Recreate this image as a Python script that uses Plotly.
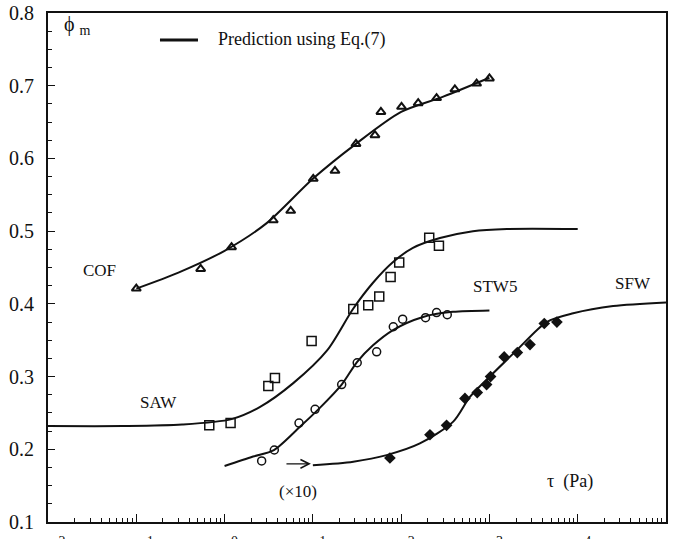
import plotly.graph_objects as go

# ---- measured data: shear stress tau (Pa) vs maximum packing fraction phi_m ----
cof_tau = [0.1, 0.536, 1.20, 3.56, 5.61, 10.1, 17.8, 30.8, 50.5, 59.0, 101, 156, 252, 406, 716, 1000]
cof_phi = [0.421, 0.448, 0.478, 0.515, 0.528, 0.572, 0.583, 0.620, 0.632, 0.664, 0.671, 0.676, 0.683, 0.695, 0.703, 0.710]

saw_tau = [0.671, 1.17, 3.13, 3.72, 9.68, 28.7, 42.4, 56.5, 76.0, 95.1, 208, 268]
saw_phi = [0.233, 0.236, 0.287, 0.298, 0.349, 0.393, 0.398, 0.410, 0.437, 0.457, 0.491, 0.480]

stw5_tau = [2.63, 3.66, 6.97, 10.6, 21.2, 31.8, 52.8, 81.5, 104, 189, 252, 333]
stw5_phi = [0.184, 0.199, 0.236, 0.255, 0.289, 0.319, 0.334, 0.3685, 0.379, 0.381, 0.388, 0.385]

sfw_tau = [74.6, 212, 327, 528, 728, 929, 1030, 1470, 2070, 2880, 4180, 5810]
sfw_phi = [0.188, 0.220, 0.233, 0.270, 0.278, 0.289, 0.300, 0.327, 0.333, 0.344, 0.373, 0.375]

# ---- predicted curves (Eq. 7) ----
cof_fit_tau = [0.1, 0.3, 1, 3, 10, 30, 100, 300, 1000]
cof_fit_phi = [0.421, 0.443, 0.473, 0.511, 0.572, 0.619, 0.664, 0.685, 0.711]

saw_fit_tau = [0.01, 0.07, 0.33, 1.2, 2.5, 6, 14.5, 28.5, 48, 81, 136, 275, 650, 1580, 10000]
saw_fit_phi = [0.232, 0.232, 0.234, 0.2415, 0.258, 0.291, 0.336, 0.393, 0.429, 0.4575, 0.477, 0.4905, 0.500, 0.503, 0.503]

stw5_fit_tau = [1, 2.1, 3.62, 7.14, 12.0, 21.2, 31.6, 48, 81, 177, 386, 1000]
stw5_fit_phi = [0.177, 0.190, 0.199, 0.231, 0.257, 0.289, 0.320, 0.343, 0.364, 0.382, 0.389, 0.391]

sfw_fit_tau = [10, 28.7, 68.5, 163, 389, 601, 1010, 2030, 4450, 8890, 25200, 100000]
sfw_fit_phi = [0.178, 0.183, 0.192, 0.208, 0.238, 0.272, 0.300, 0.336, 0.375, 0.387, 0.397, 0.402]

# ---- x tick labels (decades) ----
x_tick_vals = [0.01, 0.1, 1, 10, 100, 1000, 10000, 100000]
x_tick_text = ["10<sup>−2</sup>", "10<sup>−1</sup>", "10<sup>0</sup>", "10<sup>1</sup>",
               "10<sup>2</sup>", "10<sup>3</sup>", "10<sup>4</sup>", "10<sup>5</sup>"]

FONT = "Liberation Serif"
BLACK = "#111111"

fig = go.Figure()

for tx, ty in [(cof_fit_tau, cof_fit_phi), (saw_fit_tau, saw_fit_phi),
               (stw5_fit_tau, stw5_fit_phi), (sfw_fit_tau, sfw_fit_phi)]:
    fig.add_trace(go.Scatter(x=tx, y=ty, mode="lines",
                             line=dict(color=BLACK, width=2, shape="spline", smoothing=0.8),
                             showlegend=False, hoverinfo="skip"))

fig.add_trace(go.Scatter(x=cof_tau, y=cof_phi, mode="markers", showlegend=False,
                         marker=dict(symbol="triangle-up-open", size=8, color=BLACK, line=dict(width=2))))
fig.add_trace(go.Scatter(x=saw_tau, y=saw_phi, mode="markers", showlegend=False,
                         marker=dict(symbol="square-open", size=9, color=BLACK, line=dict(width=1.5))))
fig.add_trace(go.Scatter(x=stw5_tau, y=stw5_phi, mode="markers", showlegend=False,
                         marker=dict(symbol="circle-open", size=8, color=BLACK, line=dict(width=1.5))))
fig.add_trace(go.Scatter(x=sfw_tau, y=sfw_phi, mode="markers", showlegend=False,
                         marker=dict(symbol="diamond", size=9, color=BLACK)))

txt = dict(family=FONT, size=17, color=BLACK)
annotations = [
    dict(x=-1.42, y=0.446, text="COF"),
    dict(x=-0.754, y=0.264, text="SAW"),
    dict(x=3.062, y=0.4235, text="STW5"),
    dict(x=4.625, y=0.4286, text="SFW"),
    dict(x=0.826, y=0.1415, text="(×10)"),
]
annotations = [dict(a, xref="x", yref="y", showarrow=False, font=txt) for a in annotations]

# arrow pointing to the start of the SFW curve
annotations.append(dict(x=0.978, y=0.180, ax=0.684, ay=0.180, xref="x", yref="y", axref="x", ayref="y",
                        text="", showarrow=True, arrowhead=5, arrowsize=1.3, arrowwidth=1.3, arrowcolor=BLACK))

# axis titles placed inside the frame
annotations.append(dict(x=0.0227, y=0.976, xref="paper", yref="paper", xanchor="left", yanchor="middle",
                        text="ϕ <sub>m</sub>", showarrow=False, font=dict(family=FONT, size=20, color=BLACK)))
annotations.append(dict(x=0.804, y=0.0786, xref="paper", yref="paper", xanchor="left", yanchor="middle",
                        text="τ  (Pa)", showarrow=False, font=dict(family=FONT, size=18, color=BLACK)))

# legend entry
annotations.append(dict(x=0.2718, y=0.947, xref="paper", yref="paper", xanchor="left", yanchor="middle",
                        text="Prediction using Eq.(7)", showarrow=False, font=dict(family=FONT, size=18, color=BLACK)))
shapes = [dict(type="line", xref="paper", yref="paper", x0=0.1812, x1=0.2427, y0=0.947, y1=0.947,
               line=dict(color=BLACK, width=3))]

fig.update_layout(
    width=679, height=539,
    margin=dict(l=48, r=13, t=13, b=17),
    plot_bgcolor="white", paper_bgcolor="white",
    font=dict(family=FONT, size=17, color=BLACK),
    annotations=annotations, shapes=shapes,
    showlegend=False,
)
fig.update_xaxes(type="log", range=[-2, 5], tickvals=x_tick_vals, ticktext=x_tick_text,
                 showline=True, linecolor=BLACK, linewidth=2, mirror=True,
                 ticks="inside", ticklen=8, tickwidth=1.2, tickcolor=BLACK,
                 showgrid=False, zeroline=False, automargin=False, ticklabelstandoff=6,
                 tickfont=dict(family=FONT, size=20, color=BLACK),
                 minor=dict(ticks="inside", ticklen=4, tickwidth=1, tickcolor=BLACK, dtick="D1", showgrid=False))
fig.update_yaxes(range=[0.1, 0.8], tick0=0.1, dtick=0.1, tickformat=".1f",
                 showline=True, linecolor=BLACK, linewidth=2, mirror=True,
                 ticks="inside", ticklen=7, tickwidth=1.2, tickcolor=BLACK,
                 showgrid=False, zeroline=False, automargin=False, ticklabelstandoff=8,
                 tickfont=dict(family=FONT, size=20, color=BLACK),
                 minor=dict(ticks="inside", ticklen=4, tickwidth=1, tickcolor=BLACK, dtick=0.025, showgrid=False))

fig.write_html("out.html")
